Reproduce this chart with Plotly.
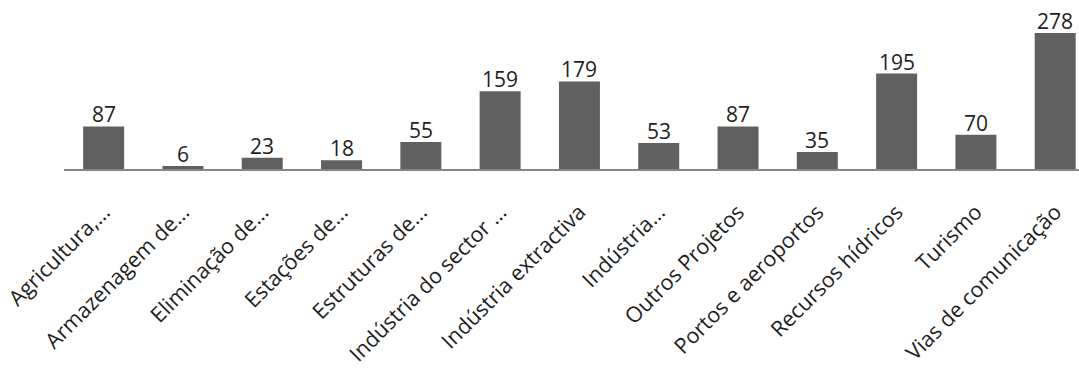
import plotly.graph_objects as go

categories = ["Agricultura,…", "Armazenagem de…", "Eliminação de…", "Estações de…",
              "Estruturas de…", "Indústria do sector …", "Indústria extractiva",
              "Indústria…", "Outros Projetos", "Portos e aeroportos",
              "Recursos hídricos", "Turismo", "Vias de comunicação"]
values = [87, 6, 23, 18, 55, 159, 179, 53, 87, 35, 195, 70, 278]

FONT = "Open Sans"
TXT = "#1e1e1e"

xs = list(range(len(categories)))

fig = go.Figure(go.Bar(
    x=xs, y=values,
    marker=dict(color="#606060", line=dict(width=0)),
    cliponaxis=False,
))

for x, v in zip(xs, values):
    fig.add_annotation(x=x, y=v, text=str(v), showarrow=False,
                       xref="x", yref="y", yanchor="bottom", yshift=-4,
                       font=dict(family=FONT, size=21, color=TXT))

fig.update_layout(
    width=1079, height=371,
    margin=dict(l=64, r=0, t=20, b=202),
    paper_bgcolor="white", plot_bgcolor="white",
    bargap=0.483, showlegend=False,
    xaxis=dict(range=[-0.5, 12.3], tickmode="array",
               tickvals=xs, ticktext=categories,
               tickangle=-45, showline=True, linecolor="#868686", linewidth=2,
               showgrid=False, zeroline=False, ticks="",
               ticklabelstandoff=20, ticklabeloverflow="allow",
               tickfont=dict(family=FONT, size=21.5, color=TXT)),
    yaxis=dict(range=[0, 304.6], visible=False, showgrid=False, zeroline=False),
)

fig.write_html("out.html")
